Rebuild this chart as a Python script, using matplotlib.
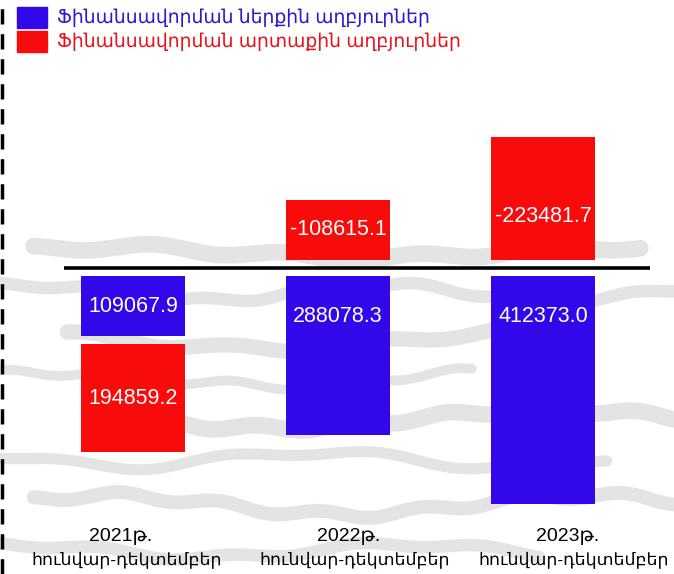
import matplotlib
matplotlib.use("Agg")
import matplotlib.pyplot as plt
from matplotlib.lines import Line2D
from matplotlib.patches import Rectangle
import numpy as np

plt.rcParams['lines.scale_dashes'] = False

categories = ["2021թ.\nհունվար-դեկտեմբեր", "2022թ.\nհունվար-դեկտեմբեր", "2023թ.\nհունվար-դեկտեմբեր"]
internal = [109067.9, 288078.3, 412373.0]
external = [194859.2, -108615.1, -223481.7]
series_names = ["Ֆինանսավորման ներքին աղբյուրներ", "Ֆինանսավորման արտաքին աղբյուրներ"]

blue = "#3208ea"
red = "#f70b0b"
blue_txt = "#2a18d2"
red_txt = "#e8121a"

num_font = ['Liberation Sans', 'DejaVu Sans']
arm_font = ['Liberation Sans', 'DejaVu Sans']

W, H = 674, 574
fig = plt.figure(figsize=(W / 100, H / 100), dpi=100)
fig.patch.set_facecolor("white")

# faint decorative background strokes (paper texture)
bg = fig.add_axes([0, 0, 1, 1], zorder=-1)
bg.set_xlim(0, 1)
bg.set_ylim(0, 1)
bg.axis("off")
t = np.linspace(0, 1, 400)
strokes = [
    (0.56, 0.010, 1.3, 0.3, 0.006, 5.1, 12, 0.05, 0.95),
    (0.49, 0.014, 1.9, 1.1, 0.005, 6.3, 9, 0.00, 1.00),
    (0.41, 0.018, 1.1, 2.0, 0.006, 4.7, 11, 0.10, 0.85),
    (0.34, 0.012, 1.6, 0.7, 0.007, 5.9, 7, 0.00, 0.70),
    (0.27, 0.016, 1.2, 1.7, 0.005, 7.1, 12, 0.20, 1.00),
    (0.20, 0.013, 1.8, 2.6, 0.006, 4.3, 8, 0.00, 0.90),
    (0.12, 0.017, 1.4, 0.2, 0.006, 6.7, 10, 0.05, 1.00),
    (0.04, 0.012, 1.7, 1.4, 0.005, 5.3, 9, 0.00, 0.80),
]
for yc, a1, f1, ph, a2, f2, lw, x0, x1 in strokes:
    tt = x0 + (x1 - x0) * t
    yy = yc + a1 * np.sin(2 * np.pi * f1 * tt + ph) + a2 * np.sin(2 * np.pi * f2 * tt + 2 * ph)
    bg.plot(tt, yy, color="#e4e4e4", lw=lw, solid_capstyle="round")

ax_left, ax_right, ax_top, ax_bot = 64, 650, 100, 520
ax = fig.add_axes([ax_left / W, 1 - ax_bot / H, (ax_right - ax_left) / W, (ax_bot - ax_top) / H])
ax.set_facecolor("none")

units_per_px = 1810.0
zero_px = 268
ax.set_ylim((ax_bot - zero_px) * units_per_px, -(zero_px - ax_top) * units_per_px)  # positive down
ax.set_xlim(-0.337, 2.522)

x = np.arange(len(categories))
width = 0.507
gap = 8 * units_per_px

blue_bottoms = [gap] * len(x)
red_bottoms = []
for b, e in zip(internal, external):
    red_bottoms.append(gap + b + gap if e >= 0 else -gap)

ax.bar(x, internal, width, bottom=blue_bottoms, color=blue, zorder=3)
ax.bar(x, external, width, bottom=red_bottoms, color=red, zorder=3)

ax.axhline(0, color="black", lw=2.6, zorder=4)

for xi, v, b in zip(x, internal, blue_bottoms):
    d = min(abs(v) / 2, 40 * units_per_px)
    ax.text(xi, b + d, f"{v:.1f}", ha="center", va="center", color="white",
            fontsize=15.5, family=num_font, zorder=5)
for xi, v, b in zip(x, external, red_bottoms):
    if v >= 0:
        y = b + v / 2
    else:
        y = b - min(abs(v) / 2, 44 * units_per_px)
    ax.text(xi, y, f"{v:.1f}", ha="center", va="center", color="white",
            fontsize=15.5, family=num_font, zorder=5)

label_x = [-0.03, 1.08, 2.15]
xt = ax.get_xaxis_transform()
for lx, c in zip(label_x, categories):
    year, period = c.split("\n")
    ax.text(lx - 0.03, -0.04, year, transform=xt, ha="center", va="center",
            fontsize=14, family=arm_font, color="black")
    ax.text(lx, -0.093, period, transform=xt, ha="center", va="center",
            fontsize=12.5, family=arm_font, color="black")

for s in ax.spines.values():
    s.set_visible(False)
ax.set_xticks([])
ax.set_yticks([])

# legend (top-left)
for i, (name, col, tcol) in enumerate(zip(series_names, [blue, red], [blue_txt, red_txt])):
    y0 = 7 + i * 24
    fig.patches.append(Rectangle((17 / W, 1 - (y0 + 21) / H), 30 / W, 21 / H,
                                 transform=fig.transFigure, color=col))
    fig.text(57 / W, 1 - (y0 + 11) / H, name, color=tcol, fontsize=13.5, va="center",
             ha="left", family=arm_font)

# dashed left edge
fig.lines.append(Line2D([1.5 / W, 1.5 / W], [0, 1], transform=fig.transFigure,
                        color="black", lw=2.5, dashes=(11, 7)))

fig.savefig("out.png", dpi=100)
